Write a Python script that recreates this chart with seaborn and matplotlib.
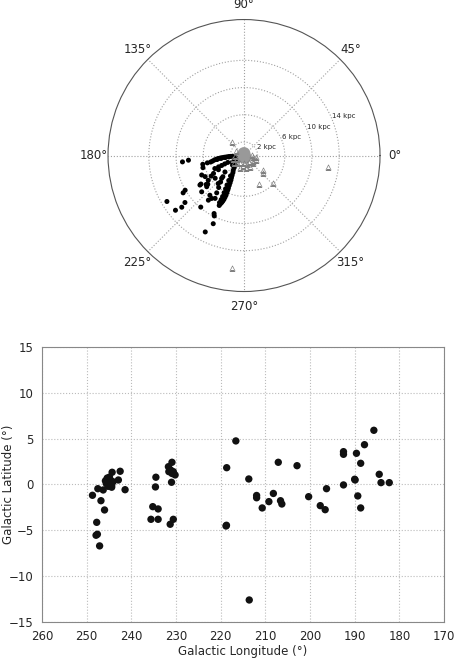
import numpy as np
import matplotlib
matplotlib.use("Agg")
import matplotlib.pyplot as plt
import seaborn as sns

# ---- polar panel: longitude (deg) vs distance (kpc)
obj_theta = [183.4, 183.8, 184.2, 184.6, 185.0, 185.5, 186.0, 186.5, 187.5, 188.5, 190.0, 191.0, 191.3,
             185.2, 186.0, 187.2, 188.4,
             185.9, 184.8, 192.0, 196.5,
             203.0, 203.5, 204.0, 204.0, 204.0,
             213.5, 217.4, 220.6, 214.7, 212.0, 210.4, 209.0, 204.7, 208.5, 213.8, 218.4, 219.9,
             211.5, 210.5, 210.8, 218.6, 219.7, 218.5, 230.0, 231.4, 242.7, 243.8, 245.7, 243.1,
             227.0, 231.0, 234.0, 237.0, 239.0, 240.5, 242.0, 243.0, 243.7, 244.3, 244.8, 245.2,
             245.6, 245.5, 245.4, 245.0, 244.6, 244.0, 243.6,
             236.5, 238.5, 240.0, 241.0, 241.8, 242.4, 242.6, 242.5,
             220.7, 225.0, 228.5, 231.6, 233.8, 229.3, 233.0, 236.0, 218.2, 227.3, 225.6,
             200.0, 195.0, 215.0, 210.0, 220.0]
obj_r = [1.7, 2.0, 2.3, 2.6, 2.9, 3.2, 3.5, 3.8, 4.1, 4.4, 4.7, 5.0, 5.5,
         2.2, 2.8, 3.4, 4.0,
         9.1, 8.2, 6.2, 6.3,
         2.6, 3.1, 3.6, 4.1, 4.7,
         7.6, 7.0, 8.2, 6.4, 5.7, 5.2, 4.3, 6.85, 6.5, 7.8, 6.8, 7.15,
         10.5, 10.05, 13.2, 12.9, 11.9, 11.1, 9.9, 8.4, 9.6, 9.9, 11.0, 12.6,
         1.9, 2.3, 2.7, 3.0, 3.4, 3.75, 4.1, 4.5, 4.9, 5.3, 5.6, 6.0,
         6.4, 6.75, 7.1, 7.4, 7.65, 7.9, 8.2,
         3.6, 4.3, 5.0, 5.6, 6.2, 6.8, 7.3, 7.8,
         3.7, 4.4, 5.2, 6.0, 6.8, 7.7, 7.9, 7.6, 5.4, 5.6, 4.7,
         1.5, 1.3, 1.5, 2.0, 2.2]

tri_theta = [150, 185, 195, 205, 215, 225, 240, 250, 262, 270, 280, 290, 300, 310,
             320, 330, 340, 350, 355, 5, 130.5, 324, 318, 297.6, 316, 352.3, 263.8]
tri_r = [1.35, 1.4, 1.7, 1.2, 1.8, 1.5, 1.3, 1.9, 1.6, 1.1, 1.8, 1.4, 1.9, 1.2,
         1.7, 1.5, 1.9, 1.3, 1.8, 1.2, 2.65, 3.5, 3.76, 4.65, 5.9, 12.5, 16.7]

sun_theta = [0, 90, 200, 300]
sun_r = [0.0, 0.3, 0.3, 0.3]

ring_r = [2, 6, 10, 14]
ring_labels = ["2 kpc", "6 kpc", "10 kpc", "14 kpc"]

# ---- lower panel: galactic coordinates
lon = [248.7, 247.75, 247.9, 247.6, 247.1, 246.8, 246.0, 247.5, 246.3,
       245.8, 245.4, 245.0, 244.7, 244.4, 245.2, 245.6, 244.9, 244.1,
       244.3, 242.5, 242.9, 241.4, 244.4,
       234.5, 234.6, 235.2, 234.0, 235.6, 234.0, 230.9, 231.7, 231.2, 230.6,
       230.2, 230.9, 231.6, 231.0, 230.6, 231.3,
       218.65, 216.6, 218.8, 218.7, 213.7, 213.6, 211.95, 211.95, 210.7, 209.2,
       208.2, 207.1, 206.6, 206.3, 202.9, 200.3, 197.7, 196.6, 196.3,
       192.5, 192.5, 192.5, 189.9, 190.0, 189.6, 188.65, 189.3, 188.65,
       187.8, 185.7, 184.5, 184.1, 182.25]
lat = [-1.18, -4.13, -5.54, -5.43, -6.7, -1.77, -2.78, -0.46, -0.6,
       0.4, 0.7, 0.2, 0.5, -0.1, -0.2, 0.1, 0.8, 0.3,
       1.33, 1.44, 0.49, -0.57, -0.3,
       0.79, -0.27, -2.42, -2.67, -3.8, -3.8, 2.42, 1.94, 1.58, 1.4,
       1.04, 1.2, 1.4, 0.24, -3.8, -4.34,
       1.83, 4.75, -4.53, -4.45, 0.6, -12.6, -1.2, -1.45, -2.56, -1.87,
       -0.98, 2.42, -1.77, -2.13, 2.05, -1.33, -2.31, -2.75, -0.46,
       -0.05, 3.58, 3.29, 0.49, 0.57, 3.4, 2.31, -1.25, -2.56,
       4.34, 5.91, 1.11, 0.2, 0.2]

sns.set_style("white")
plt.rcParams["font.family"] = ["DejaVu Sans"]

fig = plt.figure(figsize=(4.55, 6.6), dpi=100)

# polar axes
ax1 = fig.add_axes([0.2374, 0.5583, 0.5978, 0.4121], projection="polar")
sns.scatterplot(x=np.deg2rad(sun_theta), y=sun_r, ax=ax1, color="#999999",
                s=85, edgecolor="none", linewidth=0, legend=False, zorder=3)
sns.scatterplot(x=np.deg2rad(obj_theta), y=obj_r, ax=ax1, color="black",
                s=13, edgecolor="none", linewidth=0, legend=False, zorder=4)
sns.scatterplot(x=np.deg2rad(tri_theta), y=tri_r, ax=ax1, color=(0, 0, 0, 0),
                marker="^", s=14, edgecolor="#808080", linewidth=0.5,
                legend=False, zorder=5)
ax1.set_ylim(0, 20)
ax1.set_rgrids(ring_r, labels=ring_labels, angle=22.5, fontsize=5)
ax1.set_thetagrids(np.arange(0, 360, 45), fontsize=8.5)
ax1.tick_params(axis="x", pad=0)
ax1.grid(True, linestyle=":", color="#a0a0a0", linewidth=0.8)
ax1.spines["polar"].set_color("#555555")
ax1.spines["polar"].set_linewidth(0.8)
ax1.set_xlabel("")
ax1.set_ylabel("")

# cartesian axes
ax2 = fig.add_axes([0.0923, 0.0576, 0.8835, 0.4167])
sns.scatterplot(x=lon, y=lat, ax=ax2, color="#111111", s=28,
                edgecolor="none", linewidth=0, legend=False, zorder=3)
ax2.set_xlim(260, 170)
ax2.set_ylim(-15, 15)
ax2.set_xticks(np.arange(260, 169, -10))
ax2.set_yticks(np.arange(-15, 16, 5))
ax2.grid(True, linestyle=":", color="#bbbbbb", linewidth=0.8)
ax2.tick_params(length=0, labelsize=8.5, pad=6)
for sp in ax2.spines.values():
    sp.set_color("#888888")
    sp.set_linewidth(0.8)
ax2.set_xlabel("Galactic Longitude (°)", fontsize=8.5, labelpad=1)
ax2.set_ylabel("Galactic Latitude (°)", fontsize=8.5)
ax2.yaxis.set_label_coords(-0.068, 0.5)

fig.savefig("out.png", dpi=100)
